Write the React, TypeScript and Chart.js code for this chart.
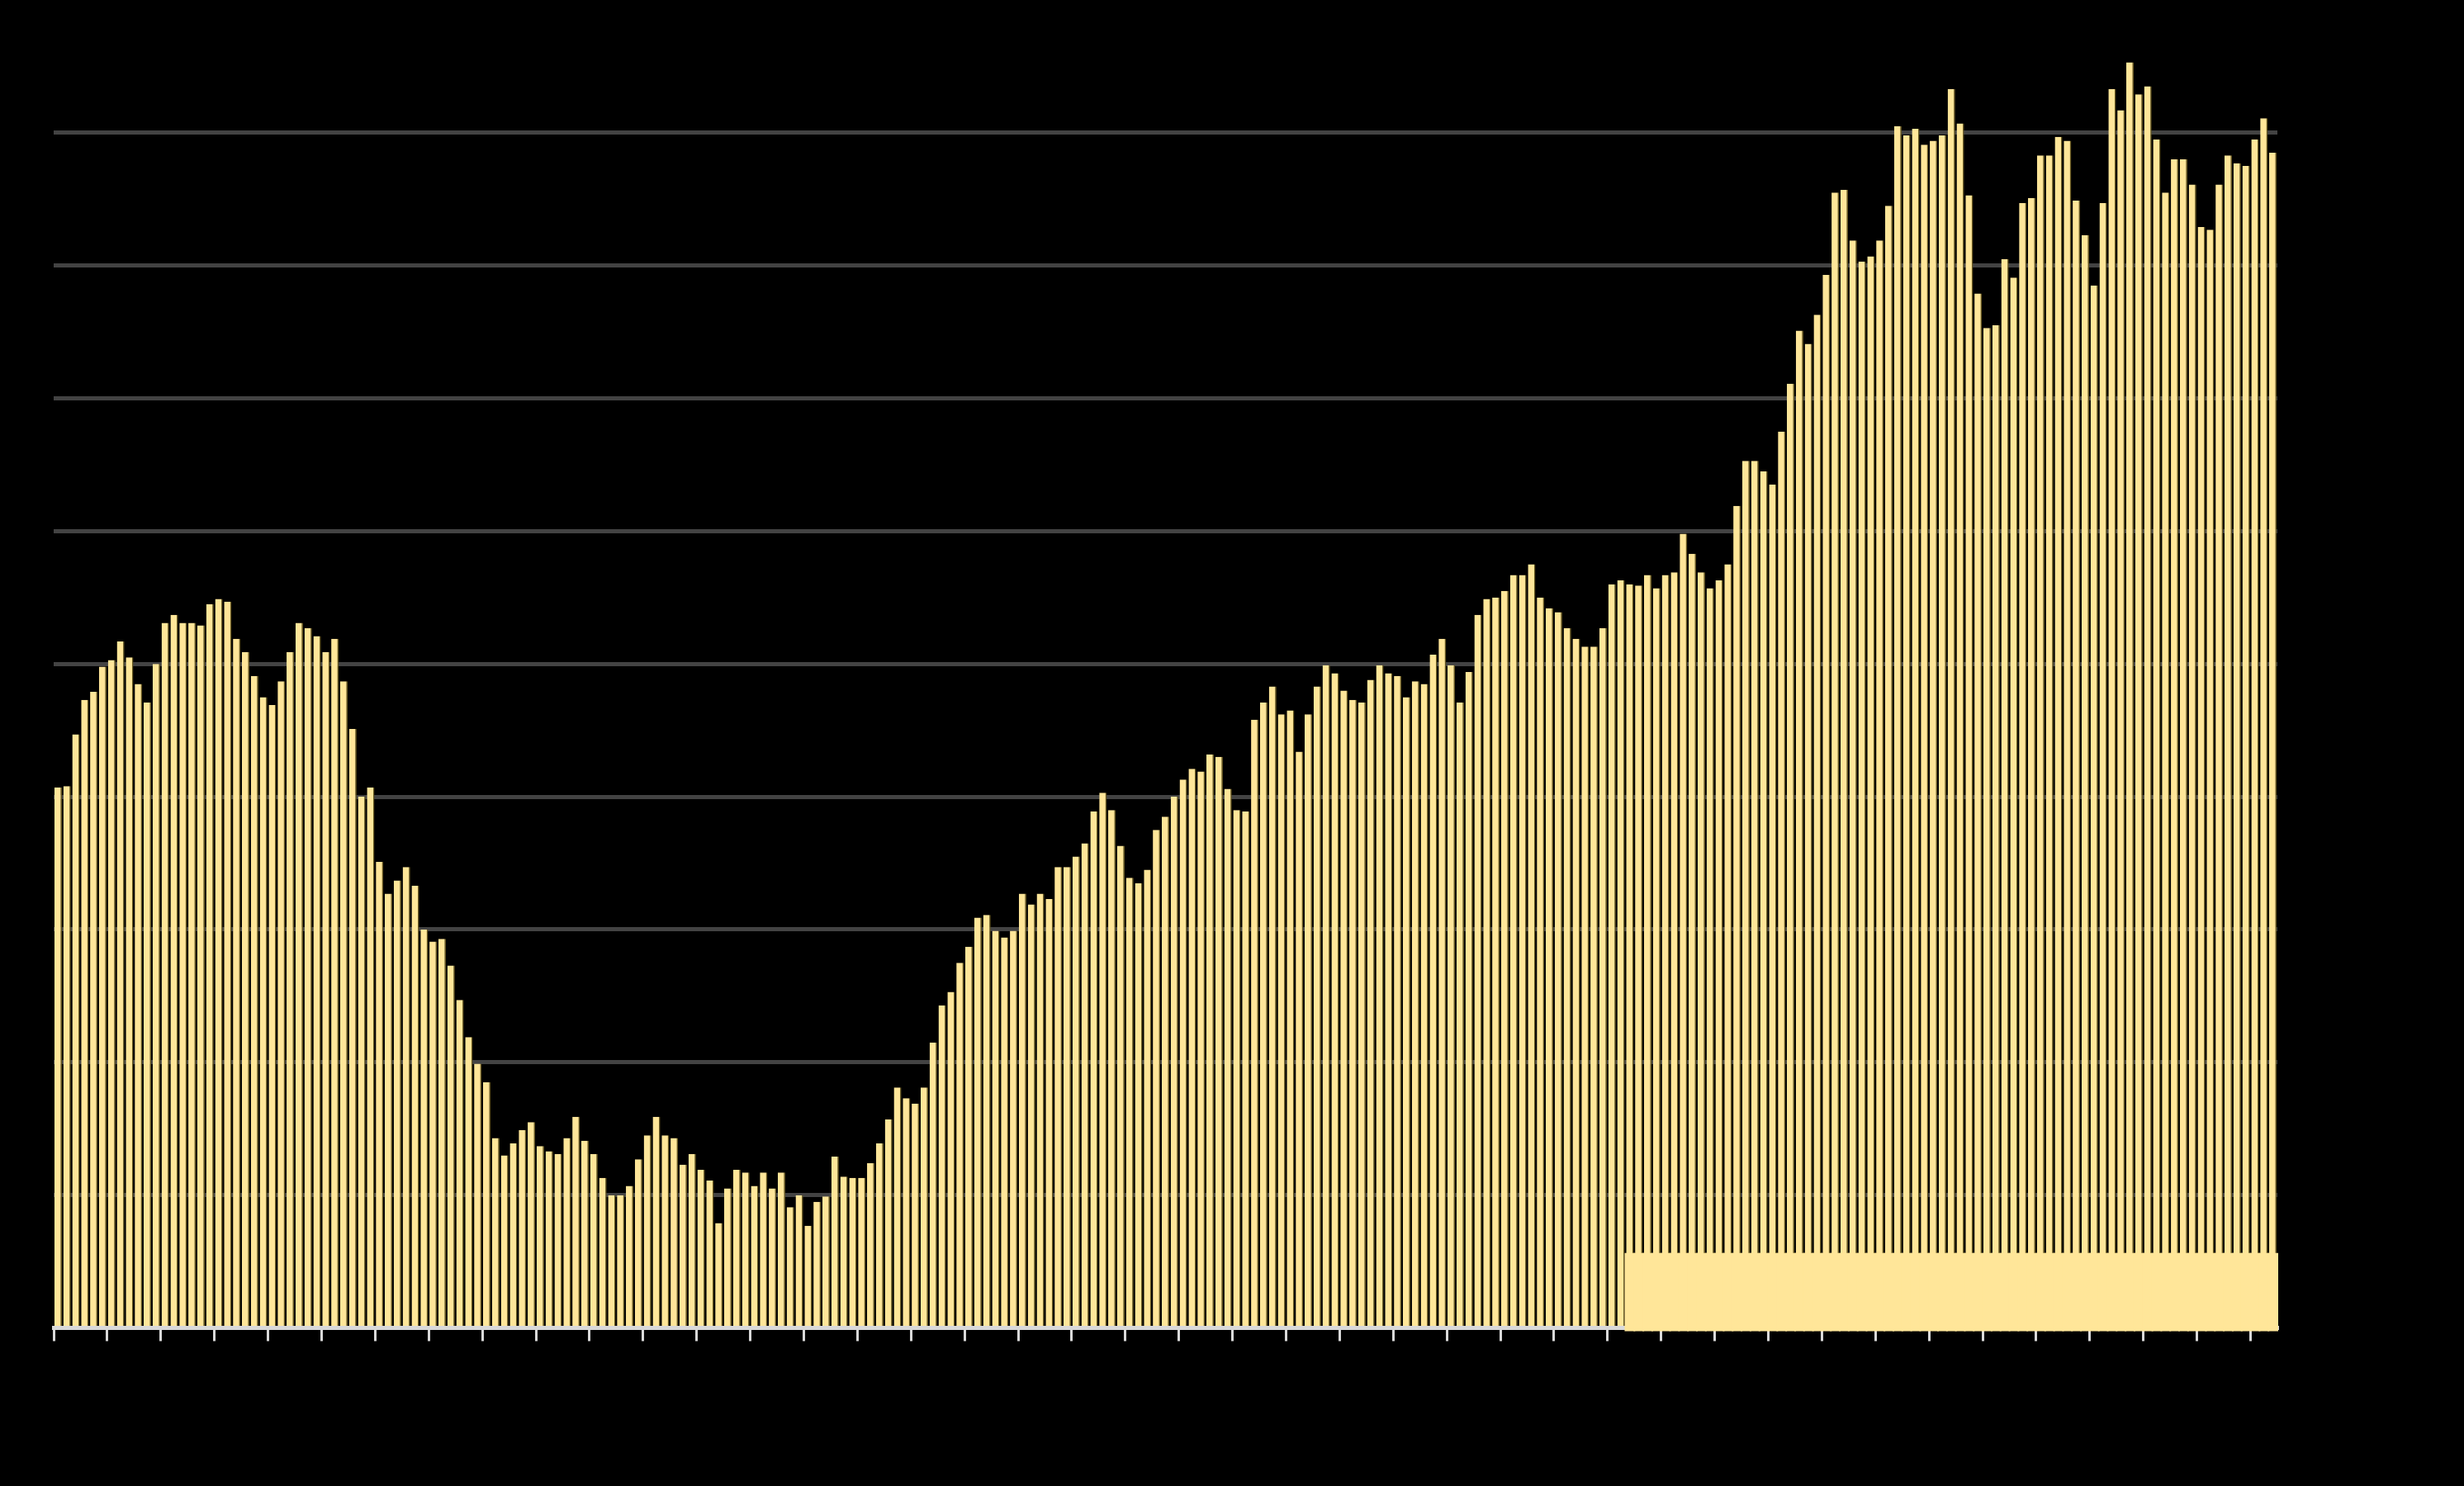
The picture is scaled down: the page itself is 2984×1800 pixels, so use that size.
import React, { useEffect, useRef } from "react";
import { Chart, registerables } from "chart.js";

Chart.register(...registerables);

// Monthly series (249 periods).
const values: number[] = [
  40.7, 40.8, 44.7, 47.3, 47.9, 49.8, 50.3, 51.7, 50.5, 48.5,
  47.1, 50.0, 53.1, 53.7, 53.1, 53.1, 52.9, 54.5, 54.9, 54.7,
  51.9, 50.9, 49.1, 47.5, 46.9, 48.7, 50.9, 53.1, 52.7, 52.1,
  50.9, 51.9, 48.7, 45.1, 40.0, 40.7, 35.1, 32.7, 33.7, 34.7,
  33.3, 30.0, 29.1, 29.3, 27.3, 24.7, 21.9, 19.9, 18.5, 14.3,
  13.0, 13.9, 14.9, 15.5, 13.7, 13.3, 13.1, 14.3, 15.9, 14.1,
  13.1, 11.3, 10.0, 10.0, 10.7, 12.7, 14.5, 15.9, 14.5, 14.3,
  12.3, 13.1, 11.9, 11.1, 7.9, 10.5, 11.9, 11.7, 10.7, 11.7,
  10.5, 11.7, 9.1, 10.0,
  7.7, 9.5, 9.9, 12.9, 11.4, 11.3, 11.3, 12.4, 13.9, 15.7,
  18.1, 17.3, 16.9, 18.1, 21.5, 24.3, 25.3, 27.5, 28.7, 30.9,
  31.1, 29.9, 29.4, 29.9, 32.7, 31.9, 32.7, 32.3, 34.7, 34.7,
  35.5, 36.5, 38.9, 40.3, 39.0, 36.3, 33.9, 33.5, 34.5, 37.5,
  38.5, 40.0, 41.3, 42.1, 41.9, 43.2, 43.0, 40.6, 39.0, 38.9,
  45.8, 47.1, 48.3, 46.2, 46.5, 43.4, 46.2, 48.3, 49.9, 49.3,
  48.0, 47.3, 47.1, 48.8, 49.9, 49.3, 49.1, 47.5, 48.7, 48.5,
  50.7, 51.9, 49.9, 47.1, 49.4, 53.7, 54.9, 55.0, 55.5, 56.7,
  56.7, 57.5, 55.0,
  54.2, 53.9, 52.7, 51.9, 51.3, 51.3, 52.7, 56.0, 56.3, 56.0,
  55.9, 56.7, 55.7, 56.7, 56.9, 59.8, 58.3, 56.9, 55.7, 56.3,
  57.5, 61.9, 65.3, 65.3, 64.5, 63.5, 67.5, 71.1, 75.1, 74.1,
  76.3, 79.3, 85.5, 85.7, 81.9, 80.3, 80.7, 81.9, 84.5, 90.5,
  89.8, 90.3, 89.1, 89.4, 89.8, 93.3, 90.7, 85.3, 77.9, 75.3,
  75.5, 80.5, 79.1, 84.7, 85.1, 88.3, 88.3, 89.7, 89.4, 84.9,
  82.3, 78.5, 84.7, 93.3, 91.7, 95.3, 92.9, 93.5, 89.5, 85.5,
  88.0, 88.0, 86.1, 82.9, 82.7, 86.1, 88.3, 87.7, 87.5, 89.5,
  91.1, 88.5,
];

// Period labels (one per bar); ticks marked every 6 periods.
const categories: string[] = values.map((_, i) => `P${i + 1}`);
const tickEvery = 6;

// Highlighted band over the last periods: [low, high] in value units.
const bandStartIndex = 176;
const bandLow = -0.18;
const bandHigh = 5.58;
const bandData: ([number, number] | null)[] = categories.map((_, i) =>
  i >= bandStartIndex ? [bandLow, bandHigh] : null
);

const yTicks = { min: 0, max: 100, step: 10 };

export default function App() {
  const ref = useRef<HTMLCanvasElement | null>(null);

  useEffect(() => {
    document.body.style.margin = "0";
    document.body.style.background = "#000";
    const canvas = ref.current;
    if (!canvas) return;
    const chart = new Chart(canvas, {
      type: "bar",
      data: {
        labels: categories,
        datasets: [
          {
            label: "Band",
            data: bandData as any,
            backgroundColor: "#FFE699",
            borderWidth: 0,
            grouped: false,
            barPercentage: 1,
            categoryPercentage: 1,
            inflateAmount: 1,
            order: 0,
            clip: false as any,
          } as any,
          {
            label: "Value",
            data: values,
            backgroundColor: "#FFE699",
            borderColor: "#66571f",
            borderWidth: { top: 0, left: 0, bottom: 0, right: 1.5 },
            grouped: false,
            barPercentage: 0.845,
            categoryPercentage: 1,
            base: 0.15,
            order: 1,
          } as any,
        ],
      },
      options: {
        animation: false,
        responsive: false,
        devicePixelRatio: 1,
        layout: { padding: { left: 65, right: 226, top: 0, bottom: 175.5 } },
        plugins: { legend: { display: false }, tooltip: { enabled: false }, title: { display: false } },
        scales: {
          x: {
            ticks: { display: false, autoSkip: false },
            border: { display: true, color: "#d9d9d9", width: 5 },
            grid: {
              offset: true,
              drawOnChartArea: false,
              drawTicks: true,
              tickLength: 16,
              tickWidth: 3,
              lineWidth: 3,
              tickColor: (ctx: any) => (ctx.index % tickEvery === 0 ? "#d9d9d9" : "rgba(0,0,0,0)"),
            } as any,
          },
          y: {
            min: yTicks.min,
            max: yTicks.max,
            ticks: { display: false, stepSize: yTicks.step },
            border: { display: false },
            grid: {
              drawTicks: false,
              lineWidth: 5,
              color: (ctx: any) =>
                ctx.tick && ctx.tick.value > yTicks.min && ctx.tick.value < yTicks.max
                  ? "#434343"
                  : "rgba(0,0,0,0)",
            },
          },
        },
      },
    });
    return () => chart.destroy();
  }, []);

  return (
    <div style={{ width: 2984, height: 1800, background: "#000" }}>
      <canvas ref={ref} width={2984} height={1800} style={{ display: "block" }} />
    </div>
  );
}
